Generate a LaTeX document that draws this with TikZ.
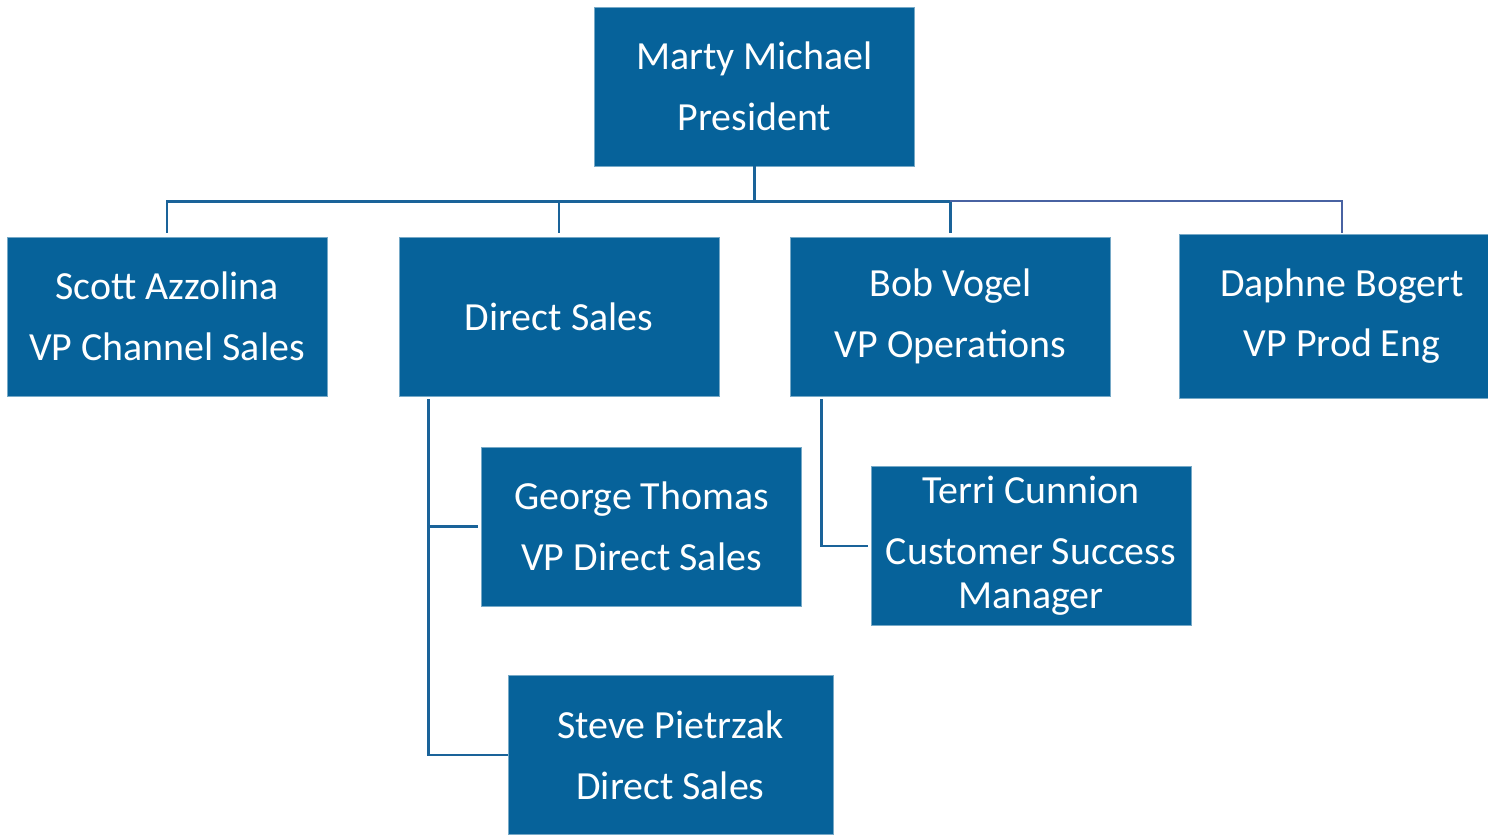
\documentclass[tikz,border=0pt]{standalone}
\usepackage{fontspec}
\setmainfont{Carlito}
\usepackage{pgf,tikz}
\usetikzlibrary{positioning, calc}

\definecolor{boxblue}{HTML}{06629A}
\definecolor{lineblue}{HTML}{1A6399}
\definecolor{sideblue}{HTML}{4862A2}

\tikzset{
  person/.style={rectangle, fill=boxblue, draw=boxblue!55!white, line width=0.4pt,
    text=white, align=center, inner sep=0pt,
    minimum width=6.4cm, minimum height=3.18cm,
    font=\fontsize{22.7pt}{34.6pt}\selectfont},
  link/.style={draw=lineblue, line width=1.5pt}
}

\begin{document}
\begin{tikzpicture}[line cap=butt,line join=miter,x=0.02cm,y=0.02cm]
\useasboundingbox (0,0) rectangle (1488,-835);
\clip (0,0) rectangle (1488,-835);

% boxes
\node[person] (marty) at (754.5,-86.5) {Marty Michael\\President};
\node[person] (scott) at (167,-316.5) {Scott Azzolina\\VP Channel Sales};
\node[person] (direct) at (559,-316.5) {Direct Sales};
\node[person] (bob) at (950.5,-316.5) {Bob Vogel\\VP Operations};
\node[person, minimum width=6.52cm, minimum height=3.28cm] (daphne) at (1342,-316) {Daphne Bogert\\VP Prod Eng};
\node[person] (george) at (641.5,-526.5) {George Thomas\\VP Direct Sales};
\node[person] (terri) at (1031,-546) {Terri Cunnion\\Customer Success\\[-9.6pt]Manager};
\node[person, minimum width=6.5cm] (steve) at (670.5,-755) {Steve Pietrzak\\Direct Sales};

% bus under the president
\draw[link] (marty.south) -- ++(0,-35) coordinate (bus);
\foreach \n in {scott,direct,bob}
  \draw[link, shorten >=2.2pt] (bus) -| (\n.north);
\draw[draw=sideblue, line width=1.1pt, shorten >=0.5pt] ($(bus)+(195,0)$) -| (daphne.north);

% reports below
\draw[link] ([xshift=0.6cm,yshift=-0.06cm]direct.south west) |- (steve.west);
\draw[link] ([xshift=0.6cm]direct.south west |- george.west) -- ([xshift=-0.06cm]george.west);
\draw[link] ([xshift=0.62cm,yshift=-0.06cm]bob.south west) |- ([xshift=-0.06cm]terri.west);
\end{tikzpicture}
\end{document}
